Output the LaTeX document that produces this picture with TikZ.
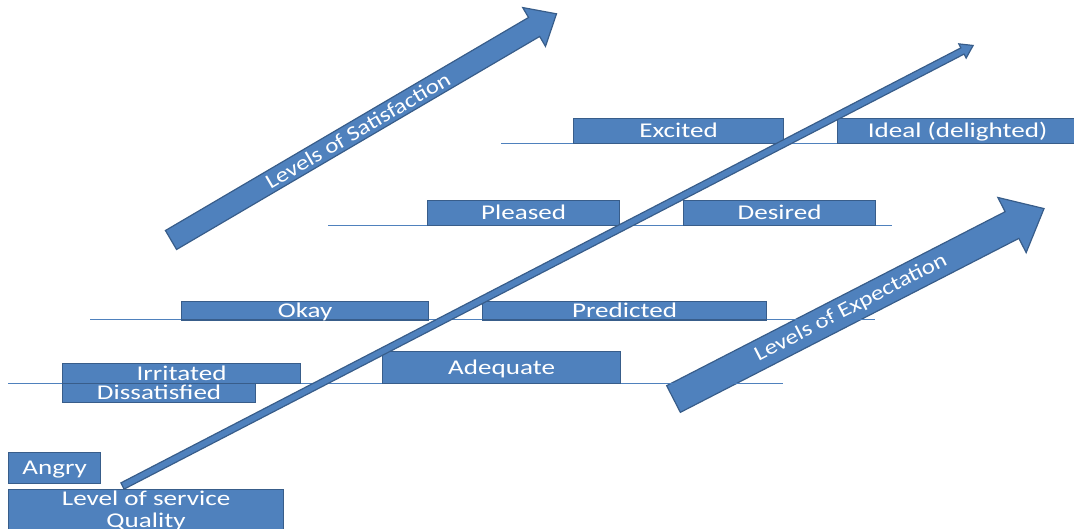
\documentclass[tikz,border=0pt]{standalone}
\usepackage{fontspec}
\setmainfont{Carlito}[FakeStretch=1.29]
\newfontfamily\arrowfont{Carlito}[FakeStretch=1.19]
\definecolor{boxfill}{HTML}{4F81BD}
\definecolor{boxedge}{HTML}{385D8A}
\tikzset{
  box/.style={draw=boxedge, fill=boxfill, line width=1.2pt, text=white,
    inner sep=0pt, anchor=north west, font=\fontsize{21}{22}\selectfont,
    text height=13.5pt, text depth=0pt},
  levelline/.style={draw=boxfill, line width=0.8pt},
  blockarrow/.style={draw=boxedge, fill=boxfill, line width=1.2pt, line join=miter},
  arrowlabel/.style={text=white, inner sep=0pt,
    font=\arrowfont\fontsize{21}{22}\selectfont}
}
% block arrow along the local x axis: #1 length, #2 head length,
% #3 shaft width, #4 head width
\newcommand\bArrow[4]{%
  \draw[blockarrow] (0,-#3/2) -- (#1-#2,-#3/2) -- (#1-#2,-#4/2) -- (#1,0)
    -- (#1-#2,#4/2) -- (#1-#2,#3/2) -- (0,#3/2) -- cycle;}
\begin{document}
\begin{tikzpicture}[x=1pt,y=-1pt]
\useasboundingbox (0,0) rectangle (1074,529);
\clip (0,0) rectangle (1074,529);

% broad arrows
\coordinate (satTail) at (171,240);
\coordinate (expTail) at (673.5,399);
\begin{scope}[shift={(satTail)}, rotate=30.4]
  \bArrow{447}{26}{22}{45}
  \node[arrowlabel, rotate=30.4] (satLabel) at (216.5,0) {Levels of Satisfaction};
\end{scope}
\begin{scope}[shift={(expTail)}, rotate=27.2]
  \bArrow{416.6}{36}{30}{62}
  \node[arrowlabel, rotate=27.2] (expLabel) at (199.5,0) {Levels of Expectation};
\end{scope}

% level lines
\draw[levelline] (501,143) -- (1074,143);
\draw[levelline] (328,225) -- (892,225);
\draw[levelline] (90,319.5) -- (875,319.5);
\draw[levelline] (8,383) -- (783,383);

% boxes
\node[box, minimum width=210pt, minimum height=25pt] (excited) at (573,118) {Excited};
\node[box, minimum width=240pt, minimum height=25pt] (ideal) at (837,118) {Ideal (delighted)};
\node[box, minimum width=192pt, minimum height=25pt] (pleased) at (427,200) {Pleased};
\node[box, minimum width=192pt, minimum height=25pt] (desired) at (683,200) {Desired};
\node[box, minimum width=247pt, minimum height=18.5pt] (okay) at (181,301) {Okay};
\node[box, minimum width=284pt, minimum height=18.5pt] (predicted) at (482,301) {Predicted};
\node[box, minimum width=238pt, minimum height=32pt] (adequate) at (382,351) {Adequate};
\node[box, minimum width=238pt, minimum height=19.5pt] (irritated) at (62,363) {Irritated};
\node[box, minimum width=193pt, minimum height=19pt] (dissatisfied) at (62,383) {Dissatisfied};
\node[box, minimum width=92pt, minimum height=31pt] (angry) at (8,452) {Angry};
\node[box, minimum width=275pt, minimum height=43pt, align=center,
  text height=, text depth=, font=\fontsize{21}{22}\selectfont] (quality) at (8,489)
  {Level of service\\Quality};

% thin service-quality arrow
\coordinate (qualTail) at (122.5,486);
\begin{scope}[shift={(qualTail)}, rotate=27.38]
  \bArrow{958}{12}{7}{16}
\end{scope}
\end{tikzpicture}
\end{document}
